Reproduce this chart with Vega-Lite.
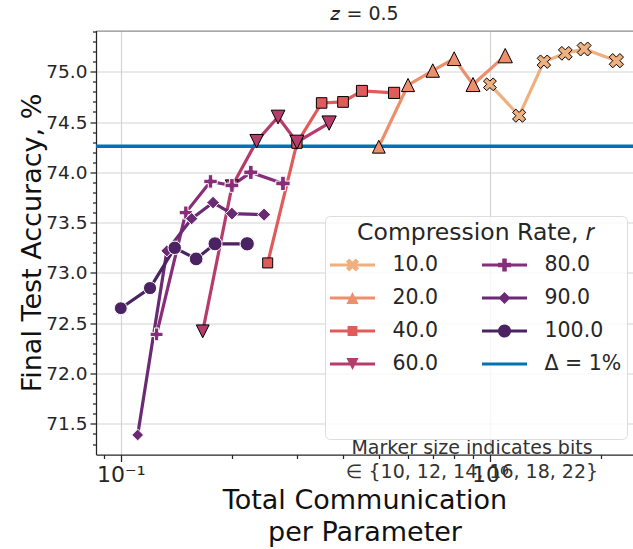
{
  "$schema": "https://vega.github.io/schema/vega-lite/v6.json",
  "width": 537,
  "height": 424,
  "autosize": {"type": "none"},
  "padding": {"left": 96, "top": 30.5, "right": 0, "bottom": 94.5},
  "title": {"text": "𝑧 = 0.5", "fontSize": 19, "fontWeight": "normal", "color": "#262626", "offset": 7, "anchor": "middle"},
  "config": {
    "view": {"stroke": null},
    "font": "DejaVu Sans",
    "axis": {"labelFont": "DejaVu Sans", "titleFont": "DejaVu Sans", "labelColor": "#262626", "tickColor": "#262626", "domainColor": "#262626", "titleColor": "#111111", "titleFontWeight": "normal", "domainWidth": 1.25, "tickWidth": 1.25, "gridColor": "#d4d4d4", "gridWidth": 1.2}
  },
  "data": {"values": [
    {"r": "10.0", "bits": 10, "comm": 1.0, "acc": 74.875},
    {"r": "10.0", "bits": 12, "comm": 1.2, "acc": 74.563},
    {"r": "10.0", "bits": 14, "comm": 1.4, "acc": 75.10},
    {"r": "10.0", "bits": 16, "comm": 1.6, "acc": 75.183},
    {"r": "10.0", "bits": 18, "comm": 1.8, "acc": 75.226},
    {"r": "10.0", "bits": 22, "comm": 2.2, "acc": 75.11},
    {"r": "20.0", "bits": 10, "comm": 0.5, "acc": 74.255},
    {"r": "20.0", "bits": 12, "comm": 0.6, "acc": 74.868},
    {"r": "20.0", "bits": 14, "comm": 0.7, "acc": 75.012},
    {"r": "20.0", "bits": 16, "comm": 0.8, "acc": 75.13},
    {"r": "20.0", "bits": 18, "comm": 0.9, "acc": 74.873},
    {"r": "20.0", "bits": 22, "comm": 1.1, "acc": 75.16},
    {"r": "40.0", "bits": 10, "comm": 0.25, "acc": 73.10},
    {"r": "40.0", "bits": 12, "comm": 0.3, "acc": 74.29},
    {"r": "40.0", "bits": 14, "comm": 0.35, "acc": 74.69},
    {"r": "40.0", "bits": 16, "comm": 0.4, "acc": 74.70},
    {"r": "40.0", "bits": 18, "comm": 0.45, "acc": 74.81},
    {"r": "40.0", "bits": 22, "comm": 0.55, "acc": 74.79},
    {"r": "60.0", "bits": 10, "comm": 0.1667, "acc": 72.42},
    {"r": "60.0", "bits": 12, "comm": 0.2, "acc": 73.86},
    {"r": "60.0", "bits": 14, "comm": 0.2333, "acc": 74.31},
    {"r": "60.0", "bits": 16, "comm": 0.2667, "acc": 74.55},
    {"r": "60.0", "bits": 18, "comm": 0.3, "acc": 74.30},
    {"r": "60.0", "bits": 22, "comm": 0.3667, "acc": 74.49},
    {"r": "80.0", "bits": 10, "comm": 0.125, "acc": 72.39},
    {"r": "80.0", "bits": 12, "comm": 0.15, "acc": 73.60},
    {"r": "80.0", "bits": 14, "comm": 0.175, "acc": 73.91},
    {"r": "80.0", "bits": 16, "comm": 0.2, "acc": 73.87},
    {"r": "80.0", "bits": 18, "comm": 0.225, "acc": 74.00},
    {"r": "80.0", "bits": 22, "comm": 0.275, "acc": 73.89},
    {"r": "90.0", "bits": 10, "comm": 0.1111, "acc": 71.39},
    {"r": "90.0", "bits": 12, "comm": 0.1333, "acc": 73.22},
    {"r": "90.0", "bits": 14, "comm": 0.1556, "acc": 73.54},
    {"r": "90.0", "bits": 16, "comm": 0.1778, "acc": 73.70},
    {"r": "90.0", "bits": 18, "comm": 0.2, "acc": 73.59},
    {"r": "90.0", "bits": 22, "comm": 0.2444, "acc": 73.58},
    {"r": "100.0", "bits": 10, "comm": 0.1, "acc": 72.65},
    {"r": "100.0", "bits": 12, "comm": 0.12, "acc": 72.85},
    {"r": "100.0", "bits": 14, "comm": 0.14, "acc": 73.25},
    {"r": "100.0", "bits": 16, "comm": 0.16, "acc": 73.14},
    {"r": "100.0", "bits": 18, "comm": 0.18, "acc": 73.29},
    {"r": "100.0", "bits": 22, "comm": 0.22, "acc": 73.29}
  ]},
  "resolve": {"axis": {"x": "independent", "y": "independent"}},
  "layer": [
    {
      "mark": {"type": "line", "strokeWidth": 3.2, "clip": true},
      "encoding": {
        "x": {"field": "comm", "type": "quantitative",
          "scale": {"type": "log", "domain": [0.08567, 2.441], "nice": false},
          "axis": {"orient": "bottom", "values": [0.1, 1], "labelExpr": "datum.value < 0.5 ? '10⁻¹' : '10⁰'", "labelFontSize": 22, "labelPadding": 3, "tickSize": 7, "grid": true, "title": ["Total Communication", "per Parameter"], "titleFontSize": 27, "titleLineHeight": 32, "titlePadding": 2}},
        "y": {"field": "acc", "type": "quantitative",
          "scale": {"domain": [71.196, 75.41], "zero": false, "nice": false},
          "axis": {"orient": "left", "values": [71.5, 72.0, 72.5, 73.0, 73.5, 74.0, 74.5, 75.0], "format": ".1f", "labelFontSize": 18.5, "labelPadding": 3, "tickSize": 6, "grid": true, "title": "Final Test Accuracy, %", "titleFontSize": 27, "titlePadding": -1}},
        "color": {"field": "r", "type": "nominal",
          "scale": {
            "domain": ["10.0", "20.0", "40.0", "60.0", " ", "  ", "80.0", "90.0", "100.0", "Δ = 1%", "   ", "    "],
            "range": ["#efb07f", "#ec8f6c", "#e05c5b", "#b73c6c", "rgba(0,0,0,0)", "rgba(0,0,0,0)", "#862e7a", "#6a2a74", "#4b2363", "#0173b2", "rgba(0,0,0,0)", "rgba(0,0,0,0)"]},
          "legend": {
            "title": "Compression Rate, 𝑟",
            "orient": "none", "legendX": 229, "legendY": 185.5,
            "direction": "vertical", "columns": 2,
            "titleFontSize": 23.5, "titleFontWeight": "normal", "titleColor": "#262626", "titleAnchor": "middle", "titlePadding": -2, "titleLimit": 500,
            "labelFontSize": 20.5, "labelColor": "#262626", "labelOffset": 17.5, "labelLimit": 300,
            "symbolSize": 2025, "symbolStrokeWidth": 0,
            "rowPadding": -4.2, "columnPadding": 43,
            "padding": 5, "fillColor": "rgba(255,255,255,0.8)", "strokeColor": "#dddddd", "cornerRadius": 5,
            "encode": {
              "labels": {"update": {
                "fontSize": {"signal": "(datum.value === ' ' || datum.value === '  ' || datum.value === '   ' || datum.value === '    ') ? 13 : 20.5"}
              }},
              "symbols": {"update": {
              "shape": {"signal": "datum.value === '10.0' ? 'M-1,-0.067H1V0.067H-1Z M-0.145,-0.29L0,-0.145L0.145,-0.29L0.29,-0.145L0.145,0L0.29,0.145L0.145,0.29L0,0.145L-0.145,0.29L-0.29,0.145L-0.145,0L-0.29,-0.145Z' : datum.value === '20.0' ? 'M-1,-0.067H1V0.067H-1Z M0,-0.27L0.27,0.27L-0.27,0.27Z' : datum.value === '40.0' ? 'M-1,-0.067H1V0.067H-1Z M-0.22,-0.22H0.22V0.22H-0.22Z' : datum.value === '60.0' ? 'M-1,-0.067H1V0.067H-1Z M0,0.27L-0.27,-0.27L0.27,-0.27Z' : datum.value === '80.0' ? 'M-1,-0.067H1V0.067H-1Z M-0.29,-0.1H-0.1V-0.29H0.1V-0.1H0.29V0.1H0.1V0.29H-0.1V0.1H-0.29Z' : datum.value === '90.0' ? 'M-1,-0.067H1V0.067H-1Z M-0.27,0L0,-0.27L0.27,0L0,0.27Z' : datum.value === '100.0' ? 'M-1,-0.067H1V0.067H-1Z M-0.29,0A0.29,0.29 0 1,1 0.29,0A0.29,0.29 0 1,1 -0.29,0Z' : 'M-1,-0.067H1V0.067H-1Z'"},
              "fill": {"signal": "scale('color', datum.value)"},
              "stroke": {"value": "transparent"},
              "opacity": {"value": 1}
            }}}
          }}
      }
    },
    {
      "data": {"values": [{"delta": 74.26}]},
      "mark": {"type": "rule", "strokeWidth": 3.5},
      "encoding": {
        "y": {"field": "delta", "type": "quantitative",
          "axis": {"orient": "left", "values": [71.3, 71.4, 71.6, 71.7, 71.8, 71.9, 72.1, 72.2, 72.3, 72.4, 72.6, 72.7, 72.8, 72.9, 73.1, 73.2, 73.3, 73.4, 73.6, 73.7, 73.8, 73.9, 74.1, 74.2, 74.3, 74.4, 74.6, 74.7, 74.8, 74.9, 75.1, 75.2, 75.3, 75.4], "labels": false, "grid": false, "domain": false, "tickSize": 3.5, "title": null}},
        "color": {"datum": "Δ = 1%"}
      }
    },
    {
      "mark": {"type": "point", "filled": true, "opacity": 1, "strokeWidth": 1, "clip": true},
      "encoding": {
        "x": {"field": "comm", "type": "quantitative",
          "axis": {"orient": "top", "labels": false, "ticks": false, "grid": false, "domainColor": "#8c8c8c", "title": null}},
        "y": {"field": "acc", "type": "quantitative", "axis": null},
        "color": {"field": "r", "type": "nominal"},
        "stroke": {"condition": {"test": "datum.r === '80.0' || datum.r === '90.0' || datum.r === '100.0'", "value": "#ffffff"}, "value": "#000000"},
        "shape": {"field": "r", "type": "nominal", "legend": null,
          "scale": {
            "domain": ["10.0", "20.0", "40.0", "60.0", "80.0", "90.0", "100.0"],
            "range": [
              "M-0.5,-1L0,-0.5L0.5,-1L1,-0.5L0.5,0L1,0.5L0.5,1L0,0.5L-0.5,1L-1,0.5L-0.5,0L-1,-0.5Z",
              "M0,-1L1,1L-1,1Z",
              "M-0.78,-0.78H0.78V0.78H-0.78Z",
              "M0,1L-1,-1L1,-1Z",
              "M-1,-0.33H-0.33V-1H0.33V-0.33H1V0.33H0.33V1H-0.33V0.33H-1Z",
              "M-0.92,0L0,-0.92L0.92,0L0,0.92Z",
              "circle"
            ]}},
        "size": {"field": "bits", "type": "ordinal", "legend": null,
          "scale": {"domain": [10, 12, 14, 16, 18, 22], "range": [165, 205, 248, 295, 346, 460]}},
        "order": {"field": "bits", "type": "quantitative"}
      }
    },
    {
      "data": {"values": [{"note_x": 0.894, "note_y": 71.262}]},
      "mark": {"type": "text", "text": ["Marker size indicates bits", "∈ {10, 12, 14, 16, 18, 22}"], "fontSize": 19, "color": "#333333", "align": "center", "baseline": "middle", "lineHeight": 24},
      "encoding": {
        "x": {"field": "note_x", "type": "quantitative",
          "axis": {"orient": "bottom", "values": [0.09, 0.2, 0.3, 0.4, 0.5, 0.6, 0.7, 0.8, 0.9, 2], "labels": false, "grid": false, "domain": false, "tickSize": 4, "title": null}},
        "y": {"field": "note_y", "type": "quantitative", "axis": null}
      }
    }
  ]
}
